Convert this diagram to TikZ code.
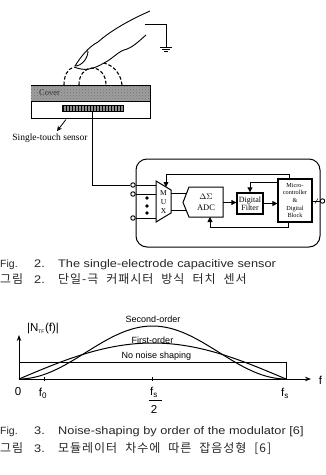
\documentclass[tikz,border=0pt]{standalone}
\usepackage{fontspec}
\setmainfont{Liberation Serif}
\newfontfamily\capfont{Liberation Sans}
\newfontfamily\capwide[FakeStretch=1.16]{Liberation Sans}
\newfontfamily\krfont[LetterSpace=8,WordSpace=2.2]{Noto Sans CJK KR}
\usetikzlibrary{arrows.meta,patterns,calc}
\tikzset{
  blockbox/.style={draw=black,line width=1pt,fill=white,inner sep=0pt,font=\fontsize{8}{9}\selectfont,align=center},
  terminal/.style={circle,draw=black,line width=.9pt,fill=white,minimum size=4.5pt,inner sep=0pt},
  wire/.style={line width=.8pt},
  flow/.style={line width=.8pt,-{Triangle[length=5pt,width=5pt]}},
  field/.style={line width=1.1pt,dash pattern=on 3.5pt off 2pt},
  outline/.style={line width=.9pt,line join=round},
  caplabel/.style={anchor=base west,inner sep=0pt,font=\capfont\fontsize{10.5}{12}\selectfont,text=black!85},
  widelabel/.style={anchor=base west,inner sep=0pt,font=\capwide\fontsize{11}{12}\selectfont,text=black!85},
  krlabel/.style={anchor=base west,inner sep=0pt,font=\krfont\fontsize{12}{13}\selectfont,text=black!85},
  plotlabel/.style={inner sep=0pt,font=\capfont\fontsize{9}{10}\selectfont},
  axislabel/.style={inner sep=0pt,font=\capfont\fontsize{11.5}{13}\selectfont},
}
\begin{document}
\begin{tikzpicture}[x=1pt,y=-1pt]
\useasboundingbox (0,0) rectangle (325,475);
% finger
\draw[outline] (150,11) .. controls (125,22) and (108,33) .. (98,42)
  .. controls (88,47) and (80,58) .. (75,66) .. controls (82,66) and (88,58) .. (88,51);
\draw[outline] (74,67) .. controls (84,71) and (92,70) .. (104,63)
  .. controls (112,59) and (118,52) .. (124,50) .. controls (132,48) and (138,42) .. (146,35);
% ground
\coordinate (gstart) at (145,24);
\coordinate (gnode) at (166,47);
\draw[wire] (gstart) -| (gnode);
\draw[wire] (160,47.5) -- (172,47.5) (162,49.5) -- (170,49.5) (164,51.5) -- (168,51.5);
% field lines
\draw[field] (64,85) .. controls (64,76) and (67,69) .. (74,67);
\draw[field] (79,85) .. controls (79,75) and (84,69) .. (92,68) .. controls (100,68) and (106,75) .. (106,85);
\draw[field] (122,85) .. controls (121,75) and (115,66) .. (104,63);
% sensor stack
\node[draw=black,line width=.9pt,minimum width=119pt,minimum height=33pt,inner sep=0pt,fill=white] (stack) at (90.5,101.5) {};
\path[fill=black!38] (31,85) rectangle (150,101);
\path[pattern=crosshatch dots,pattern color=black!55] (31,85) rectangle (150,101);
\draw[line width=.9pt] (31,85) -- (150,85);
\draw[line width=1.3pt] (31,101.5) -- (150,101.5);
\node[anchor=west,inner sep=0pt,font=\fontsize{8.5}{10}\selectfont,text=black!80] (coverlabel) at (39,92.5) {Cover};
\node[draw=black,fill=black!45,line width=.7pt,minimum width=61pt,minimum height=6pt,inner sep=0pt,
      postaction={pattern=vertical lines,pattern color=black}] (electrode) at (92.5,108.5) {};
\node[inner sep=0pt,font=\fontsize{9.5}{11}\selectfont] (sensorlabel) at (50,138) {Single-touch sensor};
\coordinate (ptr) at (66,119.5);
\draw[line width=.8pt,-{Stealth[length=5pt,width=5pt]}] (ptr) -- (57,131);
% circuit block
\node[draw=black,line width=1pt,rounded corners=11pt,minimum width=184pt,minimum height=88pt,inner sep=0pt] (board) at (228,203) {};
\node[terminal] (t1) at (133,185) {};
\node[terminal] (t2) at (133,194) {};
\node[terminal] (t3) at (133,218) {};
\draw[wire] (electrode.south -| 92,0) |- (t1);
\fill (147,198) circle (1.9pt) (147,206) circle (1.9pt) (147,213) circle (1.9pt);
% multiplexer
\draw[line width=1pt,fill=white] (156,181) -- (171,190) -- (171,213) -- (156,222) -- cycle;
\node[inner sep=0pt,align=center,font=\fontsize{7.5}{9}\selectfont] (mux) at (163.5,202) {M\\U\\X};
\coordinate (muxa) at (156,185);
\coordinate (muxb) at (156,194);
\coordinate (muxc) at (156,218);
\coordinate (muxtop) at (166,187);
\draw[wire] (t1) -- (muxa);
\draw[wire] (t2) -- (muxb);
\draw[wire] (t3) -- (muxc);
% converter
\draw[wire] (171,193) -- (187,193);
\draw[wire] (171,210) -- (187,210);
\draw[line width=1pt,fill=white] (183,202.5) -- (189,187) -- (223,187) -- (223,217) -- (189,217) -- cycle;
\node[inner sep=0pt,align=center,font=\fontsize{8.5}{11}\selectfont] (adc) at (206,202) {$\Delta\Sigma$\\ADC};
\coordinate (adcright) at (223,202.5);
\coordinate (adcbottom) at (210,217);
% filter and controller
\node[blockbox,line width=1.3pt,minimum width=26pt,minimum height=21pt] (filter) at (250,203.5) {Digital\\[-1pt]Filter};
\node[blockbox,line width=1.2pt,minimum width=34pt,minimum height=43pt,font=\fontsize{6.2}{7.6}\selectfont] (micro) at (295,200.5) {Micro-\\controller\\\&\\Digital\\Block};
\draw[flow] (adcright) -- (filter.west |- adcright);
\draw[flow] (filter.east) -- (micro.west |- filter.east);
\draw[flow] ($(micro.north west)+(0,4)$) -| (filter.north);
\draw[flow] ($(micro.south)+(-7,0)$) |- (210,227) -- (adcbottom);
\draw[flow] ($(micro.north)+(-6,0)$) |- (166,174) -- (muxtop);
% output
\node[terminal] (out) at (322.5,201) {};
\draw[wire] (micro.east |- out) -- (out);
\draw[line width=.5pt] (315,203.5) -- (318,198.5);
% first caption
\node[caplabel] (c1a) at (0,267) {Fig.};
\node[widelabel] (c1b) at (34,267) {2.};
\node[widelabel] (c1c) at (58,267) {The single-electrode capacitive sensor};
\node[krlabel] (k1a) at (0,283) {그림};
\node[widelabel] (k1b) at (34,283) {2.};
\node[krlabel] (k1c) at (58,283) {단일-극 커패시터 방식 터치 센서};
% noise-shaping plot
\coordinate (origin) at (19,379);
\coordinate (xend) at (311,379);
\coordinate (yend) at (19,335);
\draw[line width=.9pt,-{Stealth[length=6pt,width=4.5pt]}] (origin) -- (xend);
\draw[line width=.9pt,-{Stealth[length=6pt,width=4.5pt]}] (origin) -- (yend);
\draw[line width=1pt] (19,379) rectangle (286,362);
\draw[line width=1pt,domain=0:180,samples=70,smooth] plot ({19+\x*1.48333},{379-36*sin(\x)});
\draw[line width=1pt,domain=0:180,samples=70,smooth] plot ({19+\x*1.48333},{379-53*sin(\x)*sin(\x)});
\draw[line width=.8pt] (44,377) -- (44,381) (152.5,377) -- (152.5,381);
\node[plotlabel] (second) at (153,319) {Second-order};
\node[plotlabel] (first) at (152.5,340) {First-order};
\node[plotlabel] (none) at (156.5,356) {No noise shaping};
\node[axislabel] (ylab) at (43,329) {|N\textsubscript{\fontsize{5}{6}\selectfont TF}(f)|};
\node[axislabel] (flab) at (320.5,380) {f};
\node[axislabel] (zero) at (18,392) {0};
\node[axislabel] (fzero) at (43,393) {f\textsubscript{0}};
\node[axislabel] (fsmid) at (154,392) {f\textsubscript{s}};
\draw[line width=.8pt] (149,400) -- (162,400);
\node[axislabel] (two) at (154,409) {2};
\node[axislabel] (fsend) at (285,393) {f\textsubscript{s}};
% second caption
\node[caplabel] (c2a) at (0,434) {Fig.};
\node[widelabel] (c2b) at (34,434) {3.};
\node[widelabel] (c2c) at (58,434) {Noise-shaping by order of the modulator [6]};
\node[krlabel] (k2a) at (0,452) {그림};
\node[widelabel] (k2b) at (34,452) {3.};
\node[krlabel] (k2c) at (58,452) {모듈레이터 차수에 따른 잡음성형 [6]};
\end{tikzpicture}
\end{document}
